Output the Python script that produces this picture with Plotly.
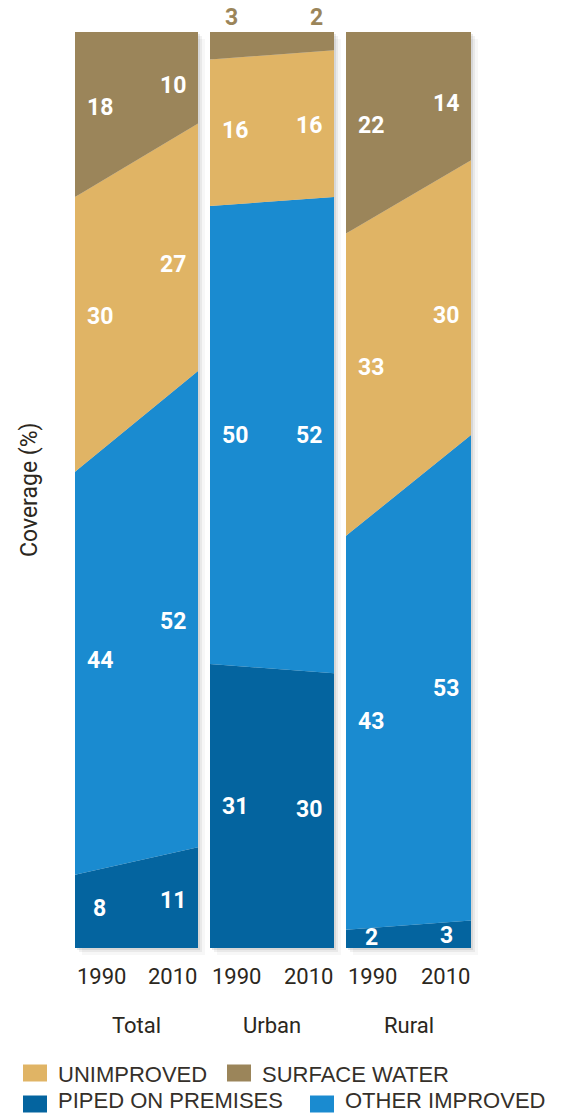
import plotly.graph_objects as go

# ---- data ----
years = [1990, 2010]
year_labels = ["1990", "2010"]
panels = ["Total", "Urban", "Rural"]

series_names = ["PIPED ON PREMISES", "OTHER IMPROVED", "UNIMPROVED", "SURFACE WATER"]
series_colors = ["#04649f", "#1a8bd0", "#e0b465", "#9b855a"]

piped = {"Total": [8, 11], "Urban": [31, 30], "Rural": [2, 3]}
other_improved = {"Total": [44, 52], "Urban": [50, 52], "Rural": [43, 53]}
unimproved = {"Total": [30, 27], "Urban": [16, 16], "Rural": [33, 30]}
surface_water = {"Total": [18, 10], "Urban": [3, 2], "Rural": [22, 14]}

series_values = [piped, other_improved, unimproved, surface_water]

legend_order = ["UNIMPROVED", "SURFACE WATER", "PIPED ON PREMISES", "OTHER IMPROVED"]

# ---- layout geometry ----
W, H = 563, 1115
panel_px = [(75, 198), (210, 334), (346, 471)]
y_top_px, y_bot_px = 32, 948


def px_x(p):
    return p / W


def px_y(p):
    return 1 - p / H


NARROW = "Liberation Sans Narrow, Roboto, sans-serif"
REG = "Liberation Sans, Arial, sans-serif"
DARK = "#2b2720"

fig = go.Figure()
annotations = []
shapes = []

for i, panel in enumerate(panels):
    xa = "x" if i == 0 else f"x{i+1}"
    for name, color, vals in zip(series_names, series_colors, series_values):
        fig.add_trace(go.Scatter(
            x=years, y=vals[panel], name=name, mode="lines",
            line=dict(width=0, color=color), fillcolor=color,
            stackgroup=f"s{i}", xaxis=xa, yaxis="y", showlegend=False,
            hoverinfo="skip",
        ))

    # value labels
    lower = [0, 0]
    for k, (name, color, vals) in enumerate(zip(series_names, series_colors, series_values)):
        v = vals[panel]
        upper = [lower[0] + v[0], lower[1] + v[1]]
        for j, f in enumerate([0.2, 0.8]):
            xv = years[0] + f * (years[1] - years[0])
            lo = lower[0] + f * (lower[1] - lower[0])
            hi = upper[0] + f * (upper[1] - upper[0])
            if k == len(series_names) - 1 and v[j] < 5:
                fx = [0.17, 0.855][j]
                annotations.append(dict(
                    x=years[0] + fx * (years[1] - years[0]), xref=xa,
                    y=px_y(18), yref="paper", text=str(v[j]), showarrow=False,
                    font=dict(family=NARROW, size=23, color=color, weight="bold"),
                    xanchor="center", yanchor="middle"))
            else:
                annotations.append(dict(
                    x=xv, xref=xa, y=(lo + hi) / 2, yref="y", text=str(v[j]),
                    showarrow=False,
                    font=dict(family=NARROW, size=23, color="white", weight="bold"),
                    xanchor="center", yanchor="middle"))
        lower = upper

    # year labels
    annotations.append(dict(x=years[0], xref=xa, y=px_y(976), yref="paper",
                            text=year_labels[0], showarrow=False, xanchor="left",
                            yanchor="middle", xshift=0,
                            font=dict(family=NARROW, size=22, color=DARK)))
    annotations.append(dict(x=years[1], xref=xa, y=px_y(976), yref="paper",
                            text=year_labels[1], showarrow=False, xanchor="right",
                            yanchor="middle", xshift=1,
                            font=dict(family=NARROW, size=22, color=DARK)))
    # panel label
    annotations.append(dict(x=0.5, xref=f"{xa} domain", y=px_y(1025), yref="paper",
                            text=panel, showarrow=False, xanchor="center",
                            yanchor="middle",
                            font=dict(family=NARROW, size=22, color=DARK)))

    # soft shadow
    x0, x1 = panel_px[i]
    for off, op in [(2, 0.10), (4, 0.07), (7, 0.04)]:
        shapes.append(dict(type="rect", xref="paper", yref="paper",
                           x0=px_x(x0 + off), x1=px_x(x1 + off),
                           y0=px_y(y_bot_px + off), y1=px_y(y_top_px + off),
                           fillcolor=f"rgba(60,60,60,{op})", line=dict(width=0),
                           layer="below"))

# y title
annotations.append(dict(x=px_x(30), y=px_y(490), xref="paper", yref="paper",
                        text="Coverage (%)", textangle=-90, showarrow=False,
                        xanchor="center", yanchor="middle",
                        font=dict(family=NARROW, size=23, color=DARK)))

# legend (manual, two rows)
color_of = dict(zip(series_names, series_colors))
legend_pos = {
    "UNIMPROVED": (23, 1073),
    "SURFACE WATER": (227, 1073),
    "PIPED ON PREMISES": (23, 1104),
    "OTHER IMPROVED": (310, 1104),
}
for name in legend_order:
    lx, ly = legend_pos[name]
    shapes.append(dict(type="rect", xref="paper", yref="paper",
                       x0=px_x(lx), x1=px_x(lx + 24), y0=px_y(ly + 8.5), y1=px_y(ly - 8.5),
                       fillcolor=color_of[name], line=dict(width=0)))
    ty = ly + 1 if ly < 1090 else ly - 3.5
    annotations.append(dict(x=px_x(lx + 34), y=px_y(ty), xref="paper", yref="paper",
                            text=name, showarrow=False, xanchor="left", yanchor="middle",
                            borderpad=0,
                            font=dict(family=REG, size=22, color="#35302a")))

layout = dict(
    width=W, height=H,
    margin=dict(l=0, r=0, t=0, b=0),
    paper_bgcolor="white", plot_bgcolor="rgba(0,0,0,0)",
    showlegend=False,
    annotations=annotations, shapes=shapes,
    yaxis=dict(domain=[px_y(y_bot_px), px_y(y_top_px)], range=[0, 100],
               visible=False, fixedrange=True, anchor="x"),
)
for i in range(3):
    key = "xaxis" if i == 0 else f"xaxis{i+1}"
    x0, x1 = panel_px[i]
    layout[key] = dict(domain=[px_x(x0), px_x(x1)], range=[years[0], years[1]],
                       visible=False, anchor="y", fixedrange=True)

fig.update_layout(**layout)
fig.write_html("out.html")
